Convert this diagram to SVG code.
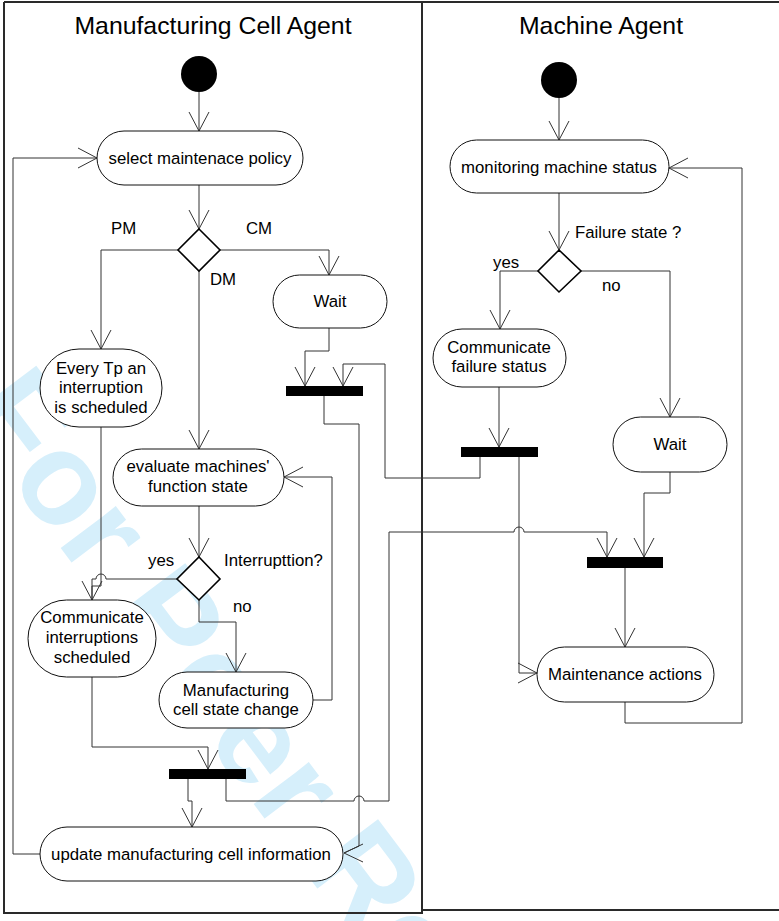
<svg xmlns="http://www.w3.org/2000/svg" width="779" height="921" viewBox="0 0 779 921">
<defs>
<style>
.lane{fill:none;stroke:#2a2a2a;stroke-width:2}
.node{fill:#fff;stroke:#111;stroke-width:1}
.dia{fill:#fff;stroke:#000;stroke-width:1.6}
.bar{fill:#000}
.start{fill:#000}
.c{fill:none;stroke:#333;stroke-width:1}
.t{font-family:"Liberation Sans",Arial,sans-serif;font-size:16.8px;fill:#000}
.m{text-anchor:middle}
.title{font-family:"Liberation Sans",Arial,sans-serif;font-size:24.8px;fill:#000;text-anchor:middle}
.wm{font-family:"Liberation Sans",Arial,sans-serif;font-size:131px;font-weight:bold;fill:#d6effb}
</style>
<marker id="arr" markerUnits="userSpaceOnUse" markerWidth="24" markerHeight="24" viewBox="-21 -12 24 24" refX="0" refY="0" orient="auto">
<path d="M-19,-10 L0,0 L-19,10" fill="none" stroke="#333" stroke-width="1"/>
</marker>
</defs>
<rect width="779" height="921" fill="#fff"/>
<text class="wm" transform="translate(-41,413) rotate(53)">For Peer Review</text>

<g id="lanes">
<path class="lane" d="M4,2 H779"/>
<path class="lane" d="M4,2 V913 H422 V2"/>
<path class="lane" d="M422,910 H779"/>
<text class="title" x="213" y="34">Manufacturing Cell Agent</text>
<text class="title" x="601" y="34">Machine Agent</text>
</g>

<g id="connectors">
<path class="c" d="M199,92 V131" marker-end="url(#arr)"/>
<path class="c" d="M199,185 V229" marker-end="url(#arr)"/>
<path class="c" d="M178,250 H101 V349" marker-end="url(#arr)"/>
<path class="c" d="M220,250 H329 V275" marker-end="url(#arr)"/>
<path class="c" d="M199,271 V449" marker-end="url(#arr)"/>
<path class="c" d="M329,328 V351 H305 V386" marker-end="url(#arr)"/>
<path class="c" d="M480,457 V478 H385 V364 H343 V386" marker-end="url(#arr)"/>
<path class="c" d="M324,396 V424 H359 V846 L344,853"/>
<path class="c" d="M363,844 L344,853 L363,862"/>
<path class="c" d="M101,427 V586 H92 V600" marker-end="url(#arr)"/>
<path class="c" d="M199,506 V557" marker-end="url(#arr)"/>
<path class="c" d="M177,579 H106 A5,5 0 0 0 96,579 H92 V600"/>
<path class="c" d="M199,600 V622 H236 V672" marker-end="url(#arr)"/>
<path class="c" d="M313,700 H332 V477 H284" marker-end="url(#arr)"/>
<path class="c" d="M92,677 V747 H208 V769" marker-end="url(#arr)"/>
<path class="c" d="M188,779 V801 H192 V827" marker-end="url(#arr)"/>
<path class="c" d="M226,779 V801 H354 A5,5 0 0 1 364,801 H389 V532 H514 A5,5 0 0 1 524,532 H607 V557" marker-end="url(#arr)"/>
<path class="c" d="M40,854 H13 V158 H97" marker-end="url(#arr)"/>
<path class="c" d="M559,98 V140" marker-end="url(#arr)"/>
<path class="c" d="M559,193 V250" marker-end="url(#arr)"/>
<path class="c" d="M538,271 H500 V329" marker-end="url(#arr)"/>
<path class="c" d="M581,271 H670 V417" marker-end="url(#arr)"/>
<path class="c" d="M499,387 V447" marker-end="url(#arr)"/>
<path class="c" d="M519,457 V673 H537" marker-end="url(#arr)"/>
<path class="c" d="M670,472 V493 H644 V557" marker-end="url(#arr)"/>
<path class="c" d="M625,568 V647" marker-end="url(#arr)"/>
<path class="c" d="M625,702 V723 H742 V168 H669" marker-end="url(#arr)"/>
</g>

<g id="start1"><circle class="start" cx="199" cy="74" r="18"/></g>
<g id="start2"><circle class="start" cx="559" cy="80" r="18"/></g>

<g id="select"><rect class="node" x="97" y="131" width="206" height="54" rx="27"/><text class="t m" x="200" y="164">select maintenace policy</text></g>
<g id="decision1"><path class="dia" d="M199,229 L220,250 L199,271 L178,250 Z"/>
<text class="t" x="111" y="234">PM</text><text class="t" x="246" y="234">CM</text><text class="t" x="210" y="285">DM</text></g>
<g id="wait1"><rect class="node" x="273" y="275" width="114" height="53" rx="26.5"/><text class="t m" x="330" y="307">Wait</text></g>
<g id="everytp"><rect class="node" x="40" y="349" width="122" height="78" rx="39"/>
<text class="t m" x="101" y="374">Every Tp an</text><text class="t m" x="101" y="393">interruption</text><text class="t m" x="101" y="413">is scheduled</text></g>
<g id="bar1"><rect class="bar" x="286" y="386" width="77" height="10"/></g>
<g id="evaluate"><rect class="node" x="113" y="449" width="171" height="57" rx="28.5"/>
<text class="t m" x="198" y="472">evaluate machines'</text><text class="t m" x="198" y="492">function state</text></g>
<g id="decision3"><path class="dia" d="M199,557 L220,579 L199,600 L177,579 Z"/>
<text class="t" x="148" y="566">yes</text><text class="t" x="224" y="566">Interrupttion?</text><text class="t" x="233" y="612">no</text></g>
<g id="commint"><rect class="node" x="28" y="600" width="128" height="77" rx="38.5"/>
<text class="t m" x="92" y="623">Communicate</text><text class="t m" x="92" y="643">interruptions</text><text class="t m" x="92" y="663">scheduled</text></g>
<g id="mcsc"><rect class="node" x="159" y="672" width="154" height="56" rx="28"/>
<text class="t m" x="236" y="696">Manufacturing</text><text class="t m" x="236" y="715">cell state change</text></g>
<g id="bar3"><rect class="bar" x="169" y="769" width="77" height="10"/></g>
<g id="update"><rect class="node" x="40" y="827" width="303" height="54" rx="27"/><text class="t m" x="191" y="860">update manufacturing cell information</text></g>

<g id="monitoring"><rect class="node" x="450" y="140" width="219" height="53" rx="26.5"/><text class="t m" x="559" y="173">monitoring machine status</text></g>
<g id="decision2"><path class="dia" d="M559,250 L581,271 L559,292 L538,271 Z"/>
<text class="t" x="575" y="238">Failure state ?</text><text class="t" x="493" y="268">yes</text><text class="t" x="602" y="291">no</text></g>
<g id="commfail"><rect class="node" x="433" y="329" width="133" height="58" rx="29"/>
<text class="t m" x="499" y="353">Communicate</text><text class="t m" x="499" y="372">failure status</text></g>
<g id="wait2"><rect class="node" x="613" y="417" width="114" height="55" rx="27.5"/><text class="t m" x="670" y="450">Wait</text></g>
<g id="bar2"><rect class="bar" x="461" y="447" width="77" height="10"/></g>
<g id="bar4"><rect class="bar" x="587" y="557" width="76" height="11"/></g>
<g id="maint"><rect class="node" x="537" y="647" width="177" height="55" rx="27.5"/><text class="t m" x="625" y="680">Maintenance actions</text></g>
</svg>
